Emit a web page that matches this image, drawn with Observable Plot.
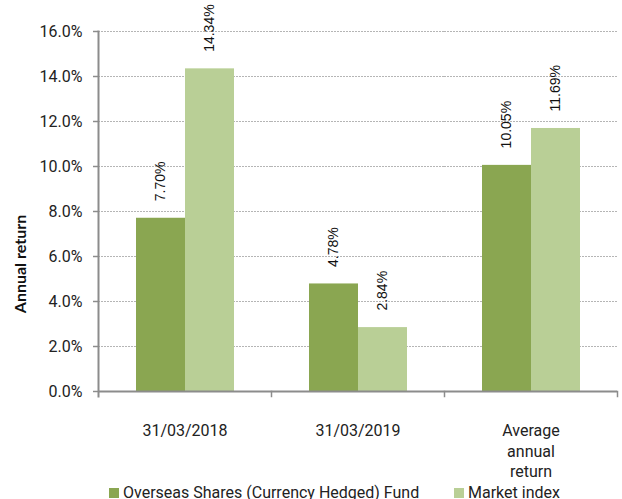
<!DOCTYPE html>
<html>
<head>
<meta charset="utf-8">
<script src="https://cdn.jsdelivr.net/npm/d3@7"></script>
<script src="https://cdn.jsdelivr.net/npm/@observablehq/plot@0.6"></script>
<style>
  html, body { margin: 0; padding: 0; background: #fff; }
  #wrap { position: relative; width: 622px; height: 499px; overflow: hidden; font-family: Roboto, sans-serif; }
  .leg { position: absolute; top: 483px; font-size: 16px; line-height: 20px; color: #222; white-space: nowrap; display: flex; align-items: center; }
  .sw { width: 10px; height: 10px; margin-right: 4px; display: inline-block; }
  #ylab { position: absolute; left: 20px; top: 264px; transform: translate(-50%, -50%) rotate(-90deg);
          font-family: Lato, sans-serif; font-weight: bold; font-size: 16px; color: #111; white-space: nowrap; line-height: 1; }
</style>
</head>
<body>
<div id="wrap"></div>
<script>
const categories = ["31/03/2018", "31/03/2019", "Average annual return"];
const categoryLabels = ["31/03/2018", "31/03/2019", "Average\nannual\nreturn"];
const seriesNames = ["Overseas Shares (Currency Hedged) Fund", "Market index"];
const fundValues = [7.70, 4.78, 10.05];
const indexValues = [14.34, 2.84, 11.69];
const yTicks = [0, 2, 4, 6, 8, 10, 12, 14, 16];
const seriesColors = ["#8aa651", "#b9cf96"];
const yLabel = "Annual return";

const data = categories.flatMap((c, i) => [
  {category: c, series: seriesNames[0], value: fundValues[i]},
  {category: c, series: seriesNames[1], value: indexValues[i]}
]);

const axisGray = "#8c8c8c";

const chart = Plot.plot({
  width: 622,
  height: 484,
  marginLeft: 98,
  marginRight: 5,
  marginTop: 31,
  marginBottom: 93,
  style: {fontFamily: "Roboto, sans-serif", fontSize: "16px", color: "#222", background: "#fff"},
  fx: {domain: categories, padding: 0, axis: null},
  x: {domain: seriesNames, paddingInner: 0, paddingOuter: 0.75, axis: null},
  y: {domain: [0, 16]},
  color: {domain: seriesNames, range: seriesColors},
  marks: [
    Plot.gridY(yTicks.filter(d => d > 0), {stroke: "#b5b5b5", strokeOpacity: 1, strokeDasharray: "2,1"}),
    Plot.barY(data, {fx: "category", x: "series", y: "value", fill: "series"}),
    Plot.axisY(yTicks, {
      tickSize: 5, tickPadding: 11, stroke: axisGray, strokeWidth: 1.5, fill: "#222",
      tickFormat: d => d.toFixed(1) + "%", label: null, fontSize: 16
    }),
    Plot.ruleY([0], {stroke: axisGray, strokeWidth: 2}),
    Plot.frame({anchor: "left", facetAnchor: "left", stroke: axisGray, strokeWidth: 2, insetBottom: -5}),
    Plot.frame({anchor: "right", stroke: axisGray, strokeWidth: 1.5, insetTop: 360, insetBottom: -5}),
    Plot.text(data, {
      fx: "category", x: "series", y: "value",
      text: d => d.value.toFixed(2) + "%",
      rotate: -90, textAnchor: "start", dy: -17,
      fontFamily: "Liberation Sans, Arial, sans-serif", fontSize: 14, fill: "#111"
    }),
    Plot.text(categories, {
      fx: d => d, text: (d, i) => categoryLabels[i],
      frameAnchor: "bottom", lineAnchor: "top", dy: 30, lineHeight: 1.28,
      fontSize: 16, fill: "#222"
    })
  ]
});

const wrap = document.getElementById("wrap");
wrap.appendChild(chart);

const yl = document.createElement("div");
yl.id = "ylab";
yl.textContent = yLabel;
wrap.appendChild(yl);

const legendLefts = [109, 454];
seriesNames.forEach((s, i) => {
  const item = document.createElement("div");
  item.className = "leg";
  item.style.left = legendLefts[i] + "px";
  const sw = document.createElement("span");
  sw.className = "sw";
  sw.style.background = seriesColors[i];
  const t = document.createElement("span");
  t.textContent = s;
  item.appendChild(sw);
  item.appendChild(t);
  wrap.appendChild(item);
});
</script>
</body>
</html>
